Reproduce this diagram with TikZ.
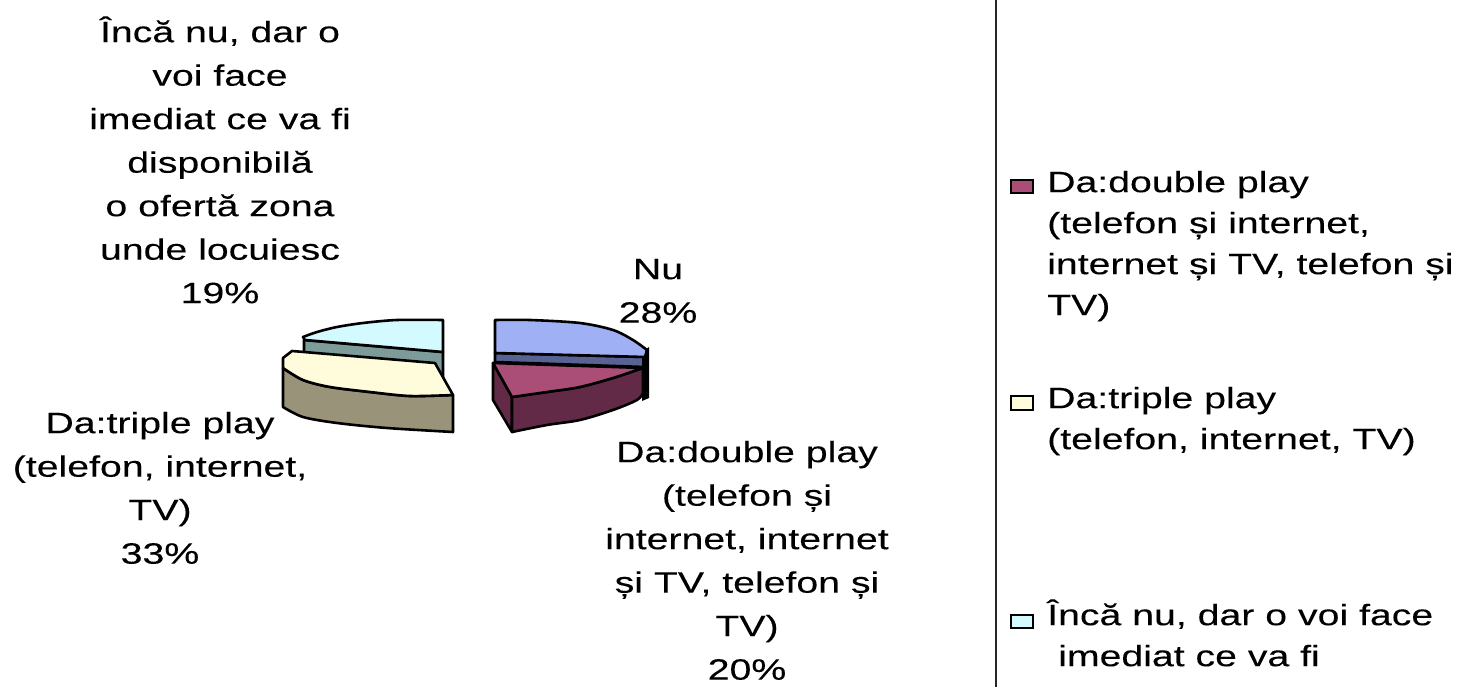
\documentclass[tikz,border=0pt]{standalone}
\usepackage{fontspec}
\setmainfont{Liberation Sans}[FakeStretch=1.33,FakeBold=0.15]
\definecolor{cyanTop}{RGB}{210,250,255}
\definecolor{cyanSide}{RGB}{125,155,152}
\definecolor{yelTop}{RGB}{255,252,220}
\definecolor{yelSide}{RGB}{153,147,122}
\definecolor{bluTop}{RGB}{160,176,245}
\definecolor{bluSide}{RGB}{88,98,148}
\definecolor{marTop}{RGB}{170,78,120}
\definecolor{marSide}{RGB}{98,42,70}
\newcommand\mystrut{\rule{0pt}{30pt}}
\begin{document}
\begin{tikzpicture}[x=1pt,y=-1pt,
  lbl/.style={anchor=north, align=center, inner sep=0pt, font=\fontsize{29.5}{43.5}\selectfont},
  leg/.style={anchor=north west, align=left, inner sep=0pt, font=\fontsize{29.5}{41}\selectfont},
  face/.style={draw=black, line width=2.6pt, line join=round},
  legbox/.style={draw=black, line width=2pt}]
\useasboundingbox (0,0) rectangle (1459,687);
\fill[white] (0,0) rectangle (1459,687);

% ---- cyan slice (Inca nu) ----
\draw[face, fill=cyanSide] (304,340) -- (443,352) -- (443,390) -- (304,378) -- cycle;
\draw[face, fill=cyanTop] (443,320) -- (443,352) -- (305,340) -- (303,337)
  -- plot[smooth] coordinates {(303,337) (317,332) (337,327) (363,323) (397,320) (443,320)} -- cycle;

% ---- yellow slice (triple play) ----
\draw[face, fill=yelSide] plot[smooth] coordinates {(283,368) (303,380) (330,387) (370,392) (410,396) (453,395)}
  -- (453,432) -- plot[smooth] coordinates {(453,432) (387,428) (337,423) (303,417) (283,407)} -- cycle;
\draw[face, fill=yelTop] (292,351) -- (435,363) -- (453,395)
  -- plot[smooth] coordinates {(453,395) (410,396) (370,392) (330,387) (303,380) (283,368)}
  -- (283,358) -- cycle;

% ---- blue slice (Nu) ----
\draw[face, fill=bluSide] (495,353) -- (645,357) -- (645,367) -- (495,362) -- cycle;
\fill[black] (642,352) -- (649,347) -- (649,398) -- (642,401) -- cycle;
\draw[face, fill=bluTop] (495,320) -- (495,353) -- (645,357) -- (647,350)
  -- plot[smooth] coordinates {(647,350) (633,340) (613,330) (580,323) (530,320) (495,320)} -- cycle;

% ---- maroon slice (double play) ----
\draw[face, fill=marSide] (493,363) -- (512,397) -- (512,432) -- (493,400) -- cycle;
\draw[face, fill=marSide] plot[smooth] coordinates {(512,397) (547,392) (580,387) (613,378) (637,370) (643,368)}
  -- (643,393) -- plot[smooth] coordinates {(643,393) (637,400) (613,410) (580,420) (547,425) (512,432)} -- cycle;
\draw[face, fill=marTop] (493,363) -- (643,368)
  -- plot[smooth] coordinates {(643,368) (637,370) (613,378) (580,387) (547,392) (512,397)} -- cycle;

% ---- data labels ----
\node[lbl] (lInca) at (220,12) {\mystrut Încă nu, dar o\\voi face\\imediat ce va fi\\disponibilă\\o ofertă zona\\unde locuiesc\\19\%};
\node[lbl] (lNu) at (658,249) {\mystrut Nu\\28\%};
\node[lbl] (lTriple) at (160,403) {\mystrut Da:triple play\\(telefon, internet,\\TV)\\33\%};
\node[lbl] (lDouble) at (747,432) {\mystrut Da:double play\\(telefon și\\internet, internet\\și TV, telefon și\\TV)\\20\%};

% ---- legend ----
\draw[line width=1.5pt, black!85] (996,0) -- (996,687);
\draw[legbox, fill=marTop] (1011,180) rectangle (1033,193);
\node[leg] (g1) at (1047,162) {\mystrut Da:double play\\(telefon și internet,\\internet și TV, telefon și\\TV)};
\draw[legbox, fill=yelTop] (1011,396) rectangle (1033,410);
\node[leg] (g2) at (1047,378) {\mystrut Da:triple play\\(telefon, internet, TV)};
\draw[legbox, fill=cyanTop] (1011,615) rectangle (1033,628);
\node[leg] (g3) at (1047,595) {\mystrut Încă nu, dar o voi face\\\hspace*{11pt}imediat ce va fi};
\end{tikzpicture}
\end{document}
